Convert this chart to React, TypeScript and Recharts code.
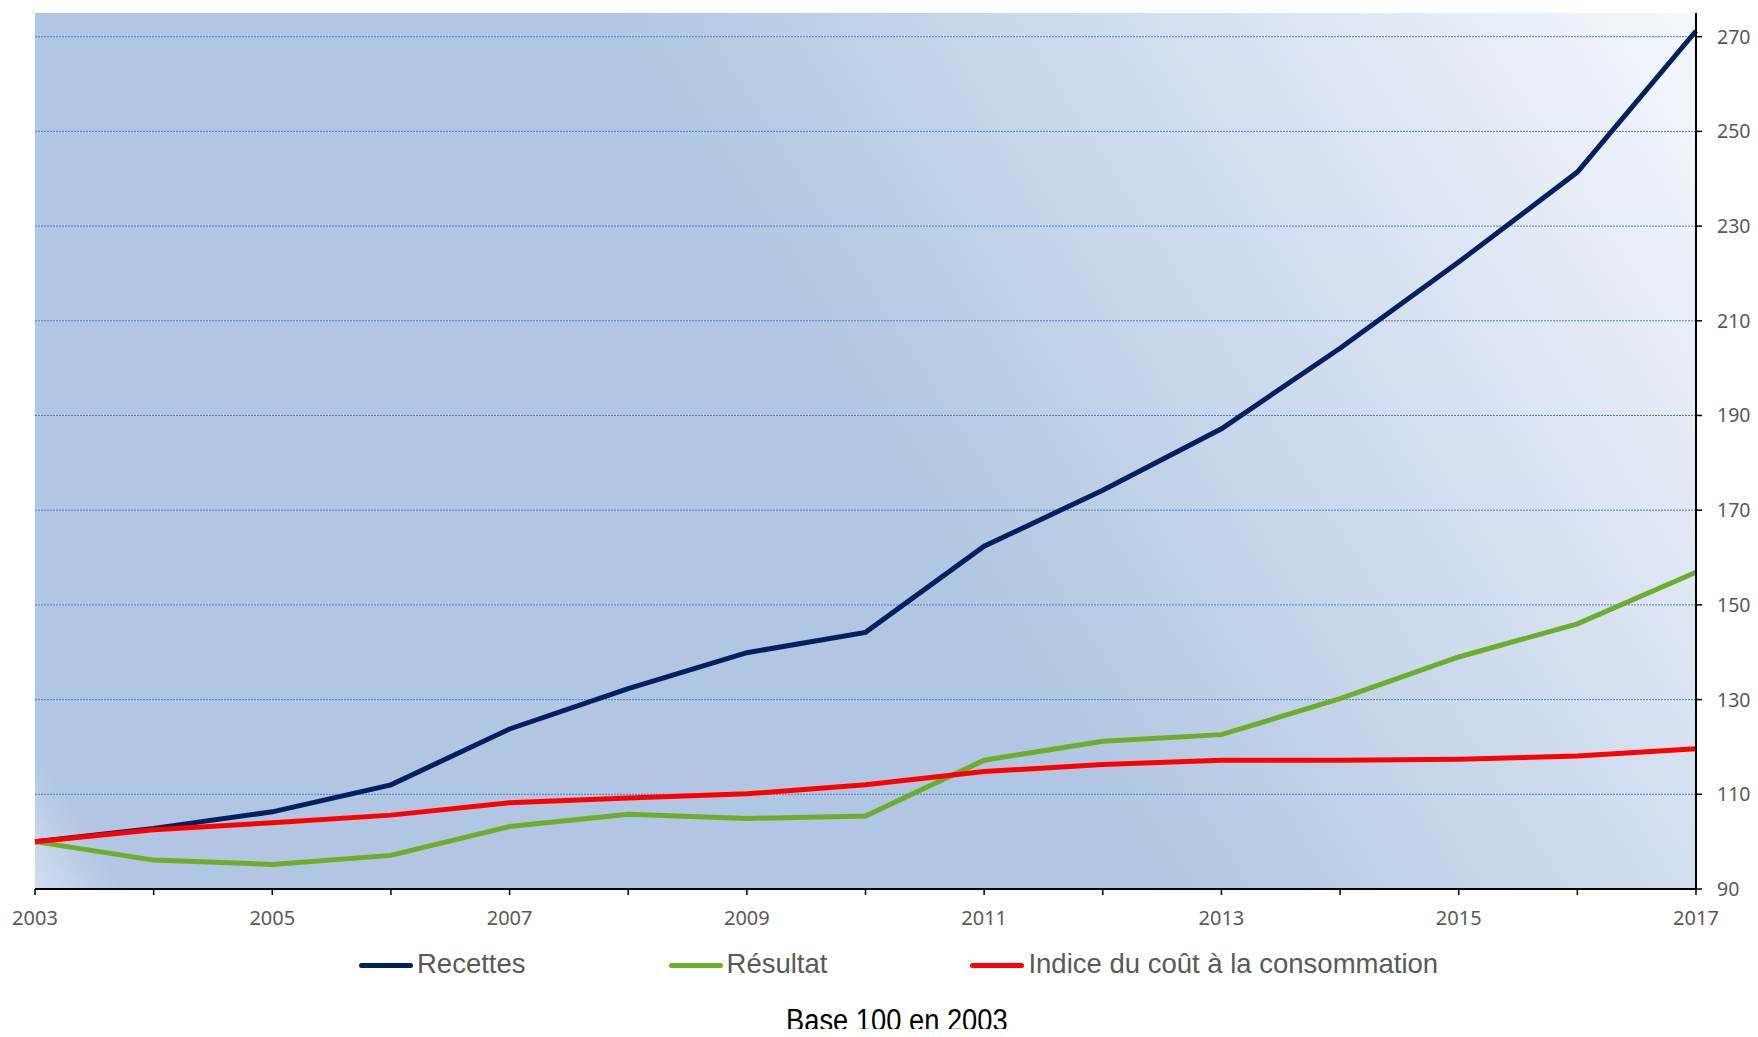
import React from 'react';
import { LineChart, Line, XAxis, YAxis, CartesianGrid } from 'recharts';

// Base 100 en 2003
const years = [2003, 2004, 2005, 2006, 2007, 2008, 2009, 2010, 2011, 2012, 2013, 2014, 2015, 2016, 2017];
const recettes = [100, 102.8, 106.3, 112, 123.8, 132.3, 139.9, 144.2, 162.4, 174.2, 187.2, 204.2, 222.4, 241.4, 271.2];
const resultat = [100, 96.1, 95.2, 97.1, 103.2, 105.8, 104.9, 105.4, 117.2, 121.2, 122.6, 130.2, 139, 146, 156.9];
const indice = [100, 102.5, 104, 105.6, 108.2, 109.2, 110.1, 112, 114.8, 116.3, 117.2, 117.2, 117.4, 118.1, 119.6];
const yTicks = [90, 110, 130, 150, 170, 190, 210, 230, 250, 270];

const series = [
  { key: 'recettes', name: 'Recettes', color: '#002060' },
  { key: 'resultat', name: 'Résultat', color: '#6eac2c' },
  { key: 'indice', name: 'Indice du coût à la consommation', color: '#ff0000' },
];

const data = years.map((year, i) => ({
  year,
  recettes: recettes[i],
  resultat: resultat[i],
  indice: indice[i],
}));

const W = 1742;
const H = 1021;
const plot = { left: 27, top: 5, right: 1688, bottom: 881 };
const axisFont = '"Noto Sans", sans-serif';

const App: React.FC = () => {
  return (
    <div style={{ position: 'relative', width: W, height: H, fontFamily: '"Liberation Sans", Arial, sans-serif' }}>
      <LineChart
        width={W}
        height={H}
        data={data}
        margin={{ top: plot.top, right: 0, left: plot.left, bottom: H - plot.bottom - 40 }}
      >
        <defs>
          <linearGradient
            id="plotBg"
            gradientUnits="userSpaceOnUse"
            x1={plot.left}
            y1={plot.bottom}
            x2={plot.left + 1582}
            y2={plot.bottom - 1001}
          >
            <stop offset="0" stopColor="#d3dff0" />
            <stop offset="0.04" stopColor="#b0c6e2" />
            <stop offset="0.5" stopColor="#b0c6e2" />
            <stop offset="1" stopColor="#f4f7fc" />
          </linearGradient>
        </defs>
        <CartesianGrid
          vertical={false}
          horizontalValues={yTicks.slice(1)}
          fill="url(#plotBg)"
          fillOpacity={1}
          stroke="#4f7fc4"
          strokeDasharray="2 1"
          strokeWidth={1}
        />
        <XAxis
          dataKey="year"
          type="number"
          domain={[2003, 2017]}
          ticks={years}
          interval={0}
          tickFormatter={(v: number) => ((v - 2003) % 2 === 0 ? String(v) : '')}
          axisLine={{ stroke: '#000', strokeWidth: 2 }}
          tickLine={{ stroke: '#000', strokeWidth: 1.5 }}
          tickSize={6}
          tickMargin={16}
          height={40}
          tick={{ fill: '#595959', fontSize: 20, fontFamily: axisFont }}
        />
        <YAxis
          orientation="right"
          type="number"
          domain={[90, 275]}
          ticks={yTicks}
          interval={0}
          width={W - plot.right}
          axisLine={{ stroke: '#000', strokeWidth: 2 }}
          tickLine={{ stroke: '#000', strokeWidth: 1.5 }}
          tickSize={6}
          tickMargin={15}
          tick={{ fill: '#595959', fontSize: 19.5, fontFamily: axisFont }}
        />
        {series.map((s) => (
          <Line
            key={s.key}
            type="linear"
            dataKey={s.key}
            name={s.name}
            stroke={s.color}
            strokeWidth={5}
            dot={false}
            activeDot={false}
            isAnimationActive={false}
          />
        ))}
      </LineChart>

      {/* legend */}
      <div
        style={{
          position: 'absolute',
          left: 351,
          top: 936,
          height: 40,
          display: 'flex',
          alignItems: 'center',
          gap: 143,
          fontSize: 27.5,
          lineHeight: '28px',
          color: '#595959',
          whiteSpace: 'nowrap',
        }}
      >
        {series.map((s) => (
          <div key={s.key} style={{ display: 'flex', alignItems: 'center' }}>
            <span
              style={{
                display: 'inline-block',
                width: 54,
                height: 5.5,
                borderRadius: 3,
                background: s.color,
                marginRight: 4,
                marginTop: 3,
              }}
            />
            <span>{s.name}</span>
          </div>
        ))}
      </div>

      {/* footnote */}
      <div
        style={{
          position: 'absolute',
          left: 36,
          width: W - 36,
          top: 997,
          textAlign: 'center',
          fontSize: 31,
          lineHeight: '31px',
          color: '#000',
          whiteSpace: 'nowrap',
        }}
      >
        <span style={{ display: 'inline-block', transform: 'scaleX(0.88)' }}>Base 100 en 2003</span>
      </div>
    </div>
  );
};

export default App;
